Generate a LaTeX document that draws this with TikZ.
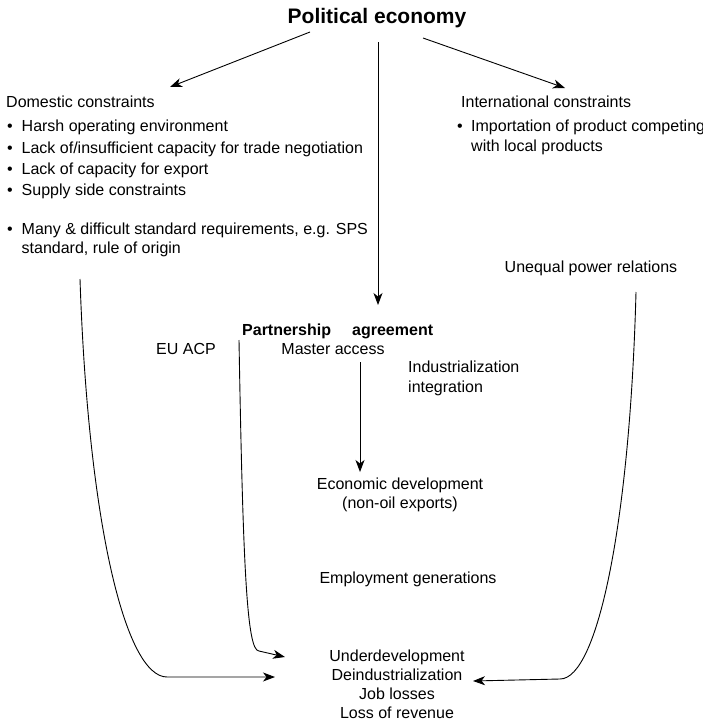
\documentclass[tikz,border=0pt]{standalone}
\usepackage{fontspec}
\setmainfont{Liberation Sans}
\usetikzlibrary{arrows.meta}
\begin{document}
\begin{tikzpicture}[x=1pt,y=-1pt,
  txt/.style={inner sep=0pt, font=\fontsize{16}{19.3}\selectfont},
  btxt/.style={inner sep=0pt, font=\bfseries\fontsize{16}{19.3}\selectfont},
  arr/.style={line width=0.9pt, -{Stealth[length=12pt,width=9pt,inset=3.5pt]}}]
\useasboundingbox (0,0) rectangle (702,723);
% title
\node[inner sep=0pt, anchor=base, font=\bfseries\fontsize{21}{25}\selectfont] (pe) at (377,23.5) {Political economy};
% domestic
\node[txt, anchor=base west] (dom) at (6,107) {Domestic constraints};
\node[txt, anchor=base west] (bd1) at (7,131.5) {•};
\node[txt, anchor=base west] (d1) at (21.5,131.5) {Harsh operating environment};
\node[txt, anchor=base west] (bd2) at (7,153.5) {•};
\node[txt, anchor=base west] (d2) at (21.5,153.5) {Lack of/insufficient capacity for trade negotiation};
\node[txt, anchor=base west] (bd3) at (7,174.5) {•};
\node[txt, anchor=base west] (d3) at (21.5,174.5) {Lack of capacity for export};
\node[txt, anchor=base west] (bd4) at (7,195.5) {•};
\node[txt, anchor=base west] (d4) at (21.5,195.5) {Supply side constraints};
\node[txt, anchor=base west] (bd5) at (7,234.5) {•};
\node[txt, anchor=base west] (d5) at (21.5,234.5) {Many \& difficult standard requirements, e.g. SPS};
\node[txt, anchor=base west] (d5b) at (21.5,253.5) {standard, rule of origin};
% international
\node[txt, anchor=base west] (int) at (461,107) {International constraints};
\node[txt, anchor=base west] (bi1) at (457,131.5) {•};
\node[txt, anchor=base west] (i1) at (471,131.5) {Importation of product competing};
\node[txt, anchor=base west] (i1b) at (471,151.5) {with local products};
\node[txt, anchor=base] (upr) at (591,272.5) {Unequal power relations};
% partnership
\node[btxt, anchor=base west] (pa1) at (242,335) {Partnership};
\node[btxt, anchor=base west] (pa2) at (352,335) {agreement};
\node[txt, anchor=base] (eu) at (186,354.5) {EU ACP};
\node[txt, anchor=base] (ma) at (333,354.5) {Master access};
\node[txt, anchor=base west] (ind1) at (408,372.5) {Industrialization};
\node[txt, anchor=base west] (ind2) at (408,392.5) {integration};
\node[txt, anchor=base] (ed1) at (400,489.5) {Economic development};
\node[txt, anchor=base] (ed2) at (400,508.5) {(non-oil exports)};
\node[txt, anchor=base] (emp) at (408,583.5) {Employment generations};
% outcome
\node[txt, anchor=base] (o1) at (397,661.5) {Underdevelopment};
\node[txt, anchor=base] (o2) at (397,680.5) {Deindustrialization};
\node[txt, anchor=base] (o3) at (397,699.5) {Job losses};
\node[txt, anchor=base] (o4) at (397,718.5) {Loss of revenue};
% connector ends
\coordinate (pel) at (310,32);
\coordinate (domt) at (170,87);
\coordinate (pem) at (378,42);
\coordinate (pat) at (378,305);
\coordinate (per) at (423,38);
\coordinate (intt) at (565,88);
\coordinate (mab) at (360,362);
\coordinate (edt) at (360,472);
\coordinate (dcs) at (80,279);
\coordinate (ol) at (275,677);
\coordinate (ups) at (636,292);
\coordinate (or) at (473,681);
\coordinate (eus) at (239,340);
\coordinate (oul) at (285,657);
% connectors
\draw[arr] (pel) -- (domt);
\draw[arr] (pem) -- (pat);
\draw[arr] (per) -- (intt);
\draw[arr] (mab) -- (edt);
\draw[arr] (dcs) .. controls (88,520) and (125,677) .. (167,677) -- (ol);
\draw[arr] (ups) .. controls (630,520) and (598,679) .. (560,679) -- (or);
\draw[arr] (eus) .. controls (243,570) and (247,651) .. (259,651) -- (oul);
\end{tikzpicture}
\end{document}
